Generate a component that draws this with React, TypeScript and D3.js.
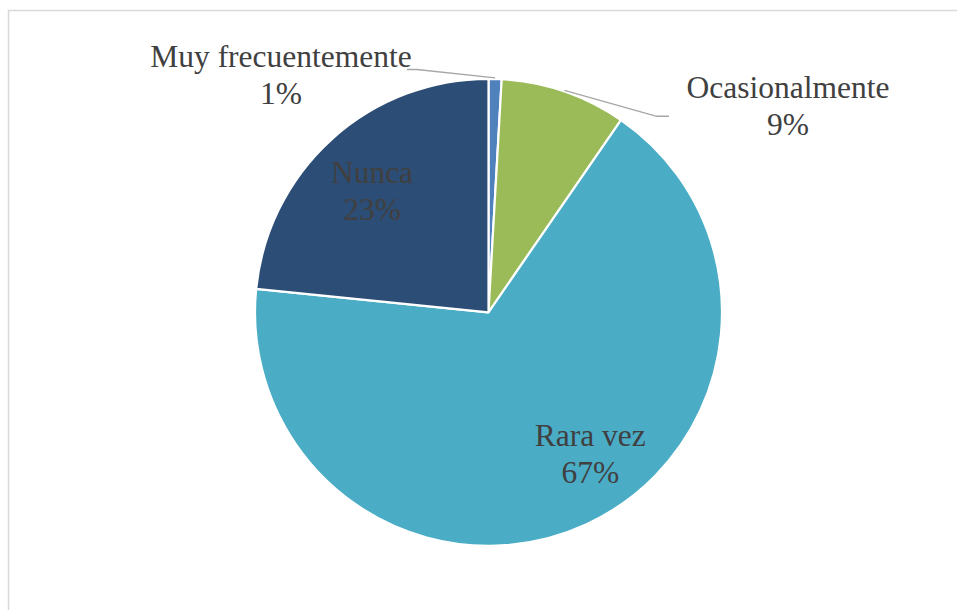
import React from "react";
import * as d3 from "d3";

const categories = ["Muy frecuentemente", "Ocasionalmente", "Rara vez", "Nunca"];
const values = [0.9, 8.7, 67.0, 23.4];
const colors = ["#4F81BD", "#9BBB59", "#4BACC6", "#2C4D75"];

const W = 957;
const H = 610;
const cx = 488.5;
const cy = 312.3;
const R = 233.5;
const lineGap = 37;
const fontSize = 31.5;

// label anchors (offset of first-line baseline from pie center)
const labelLayout = [
  { dx: -207.5, dy: -245.5, outside: true, elbow: [-71.5, -242.8], lineEnd: [-81.5, -242.8] },
  { dx: 299.5, dy: -214.3, outside: true, elbow: [168.2, -196], lineEnd: [180.5, -196] },
  { dx: 101.8, dy: 133.5, outside: false },
  { dx: -116.5, dy: -129, outside: false },
];

export default function App() {
  const total = d3.sum(values);
  const pie = d3
    .pie<number>()
    .sort(null)
    .value((d) => d)(values);
  const arc = d3.arc<d3.PieArcDatum<number>>().innerRadius(0).outerRadius(R);

  return (
    <svg
      width={W}
      height={H}
      style={{ position: "absolute", left: 0, top: 0, background: "#fff" }}
    >
      <rect x={8.5} y={10.5} width={1200} height={900} fill="#fff" stroke="#D9D9D9" strokeWidth={1.5} />
      <g transform={`translate(${cx},${cy})`}>
        {pie.map((p, i) => (
          <path key={i} d={arc(p) || ""} fill={colors[i]} stroke="#fff" strokeWidth={2.2} strokeLinejoin="round" />
        ))}
        {pie.map((p, i) => {
          const L = labelLayout[i];
          if (!L.outside) return null;
          const mid = (p.startAngle + p.endAngle) / 2;
          const ex = Math.sin(mid) * (R + 1);
          const ey = -Math.cos(mid) * (R + 1);
          return (
            <polyline
              key={"l" + i}
              points={`${ex},${ey} ${L.elbow![0]},${L.elbow![1]} ${L.lineEnd![0]},${L.lineEnd![1]}`}
              fill="none"
              stroke="#A6A6A6"
              strokeWidth={1.4}
            />
          );
        })}
        {pie.map((p, i) => {
          const L = labelLayout[i];
          const pct = Math.round((p.data / total) * 100) + "%";
          return (
            <text
              key={"t" + i}
              textAnchor="middle"
              fontFamily="'Liberation Serif', 'Times New Roman', serif"
              fontSize={fontSize}
              fill="#404040"
            >
              <tspan x={L.dx} y={L.dy}>{categories[i]}</tspan>
              <tspan x={L.dx} y={L.dy + lineGap}>{pct}</tspan>
            </text>
          );
        })}
      </g>
    </svg>
  );
}
